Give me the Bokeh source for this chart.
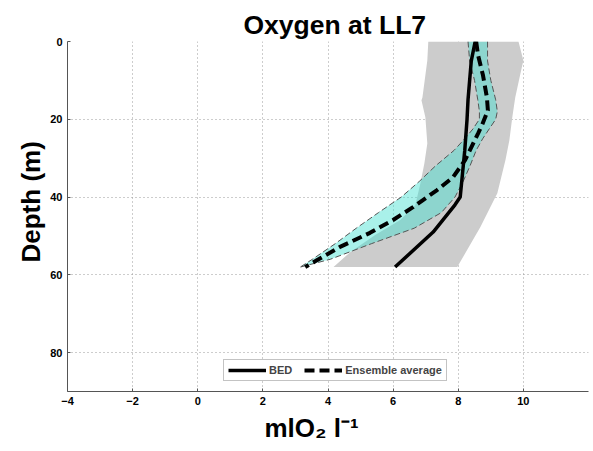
from bokeh.plotting import figure
from bokeh.models import Range1d, FixedTicker, Legend, LegendItem, Title
from bokeh.embed import file_html
from bokeh.resources import INLINE

# ---- data ----
x_ticks = [-4, -2, 0, 2, 4, 6, 8, 10]
y_ticks = [0, 20, 40, 60, 80]

# BED profile
depth_bed = [0, 5, 15, 20, 28, 40, 42, 49, 58]
o2_bed = [8.52, 8.40, 8.30, 8.27, 8.20, 8.06, 7.90, 7.23, 6.06]

# Ensemble average
depth_ens = [0, 3.6, 8.7, 14.4, 17.7, 21.5, 23.6, 30.5, 34.9, 38.2, 42.6, 45.9, 49.2, 52.8, 56.2, 58]
o2_ens = [8.55, 8.61, 8.76, 8.88, 8.91, 8.73, 8.61, 8.21, 7.84, 7.35, 6.61, 6.00, 5.29, 4.37, 3.67, 3.30]

# Ensemble spread (cyan band)
depth_spread = [0, 5, 10, 15, 18, 20, 22.5, 25, 28, 32, 36, 40, 44, 48, 52, 56, 58]
spread_lo = [8.30, 8.35, 8.50, 8.60, 8.65, 8.65, 8.45, 8.20, 7.87, 7.30, 6.80, 6.25, 5.55, 4.87, 4.22, 3.52, 3.15]
spread_hi = [8.90, 8.90, 9.00, 9.15, 9.20, 9.15, 8.95, 8.75, 8.55, 8.36, 8.15, 7.90, 7.48, 6.65, 5.33, 4.07, 3.15]

# Envelope (gray band)
depth_env_lo = [0, 4.9, 14.4, 15.1, 19.5, 26.2, 31.3, 36.4, 42.1, 45.9, 49.7, 54.1, 58]
env_lo = [7.08, 7.05, 6.90, 6.87, 6.99, 7.05, 6.96, 6.84, 6.68, 6.22, 5.46, 4.69, 4.17]
depth_env_hi = [0, 4.9, 8.2, 14.4, 19.5, 25.4, 30.5, 39, 47.7, 58]
env_hi = [9.85, 10.0, 9.91, 9.75, 9.66, 9.57, 9.45, 9.20, 8.68, 7.97]

FONT = "Liberation Sans"

p = figure(width=593, height=451, output_backend="svg", toolbar_location=None,
           x_range=Range1d(-4, 12), y_range=Range1d(90, 0),
           min_border_left=67, min_border_right=5, min_border_top=41, min_border_bottom=60)
p.outline_line_color = None
p.background_fill_color = "white"
p.border_fill_color = "white"

# title
p.title.text = "Oxygen at LL7"
p.title.align = "left"
p.title.text_font = FONT
p.title.text_font_size = "26.5px"
p.title.text_font_style = "bold"
p.title.text_color = "black"
p.title.standoff = 3
p.title.offset = 176

# axes
for ax, ticks in ((p.xaxis, x_ticks), (p.yaxis, y_ticks)):
    ax.ticker = FixedTicker(ticks=ticks)
    ax.major_label_text_font = FONT
    ax.major_label_text_font_size = "11px"
    ax.major_label_text_font_style = "bold"
    ax.major_label_text_color = "black"
    ax.major_tick_in = 3
    ax.major_tick_out = 0
    ax.minor_tick_line_color = None
    ax.axis_line_color = "#555555"
    ax.major_tick_line_color = "#555555"
    ax.major_label_standoff = 5

p.xgrid.ticker = FixedTicker(ticks=x_ticks)
p.ygrid.ticker = FixedTicker(ticks=y_ticks)
for g in (p.xgrid, p.ygrid):
    g.grid_line_color = "#9a9a9a"
    g.grid_line_dash = "1 3"
    g.grid_line_width = 1

# gray envelope
p.patch(env_lo + env_hi[::-1], depth_env_lo + depth_env_hi[::-1],
        fill_color="#cccccc", line_color=None)

# cyan spread
p.patch(spread_lo + spread_hi[::-1], depth_spread + depth_spread[::-1],
        fill_color="#40e0d0", fill_alpha=0.45, line_color=None)
p.line(spread_lo, depth_spread, line_color="#555555", line_width=1, line_dash="6 3")
p.line(spread_hi, depth_spread, line_color="#555555", line_width=1, line_dash="6 3")

# lines
r_ens = p.line(o2_ens, depth_ens, line_color="black", line_width=4, line_dash="10 5")
r_bed = p.line(o2_bed, depth_bed, line_color="black", line_width=3.5)

legend = Legend(items=[LegendItem(label="BED", renderers=[r_bed]),
                       LegendItem(label="Ensemble average", renderers=[r_ens])],
                orientation="horizontal", location=(156, 10),
                label_text_font=FONT, label_text_font_size="11px", label_text_font_style="bold",
                glyph_width=38, glyph_height=12, label_standoff=3, spacing=12,
                padding=4, margin=0, border_line_color="#888888", border_line_width=1,
                background_fill_color="white", background_fill_alpha=1)
p.add_layout(legend)

# axis labels as side titles
p.add_layout(Title(text="Depth (m)", align="left", offset=129, standoff=4,
                   text_font=FONT, text_font_size="26px", text_font_style="bold",
                   text_color="black"), "left")
p.add_layout(Title(text="mlO\u2082 l\u207b\u00b9", align="left", offset=197, standoff=6,
                   text_font=FONT, text_font_size="26px", text_font_style="bold",
                   text_color="black"), "below")

open("out.html", "w").write(file_html(p, INLINE))
